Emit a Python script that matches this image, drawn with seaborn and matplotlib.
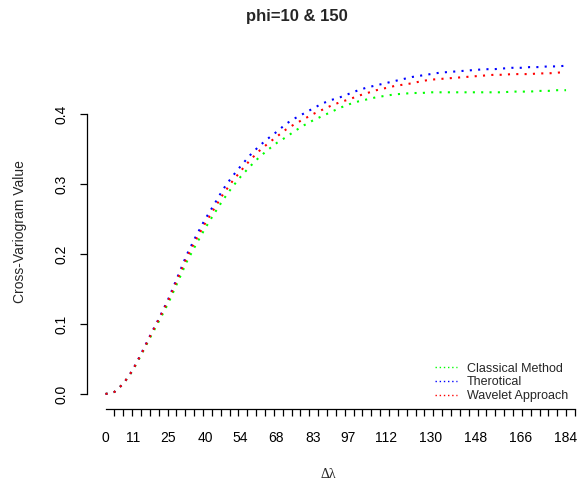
import numpy as np
import pandas as pd
import matplotlib
matplotlib.use("Agg")
import matplotlib.pyplot as plt
from matplotlib.lines import Line2D
import seaborn as sns

# lag distances
lag = np.linspace(0, 184, 52)

theoretical = [0.000, 0.003, 0.015, 0.034, 0.059, 0.085, 0.110, 0.137, 0.168, 0.199,
               0.225, 0.249, 0.270, 0.292, 0.310, 0.326, 0.341, 0.354, 0.365, 0.375,
               0.386, 0.394, 0.401, 0.408, 0.415, 0.420, 0.424, 0.429, 0.434, 0.438,
               0.441, 0.444, 0.447, 0.450, 0.453, 0.455, 0.457, 0.459, 0.460, 0.461,
               0.462, 0.463, 0.464, 0.464, 0.465, 0.466, 0.466, 0.467, 0.467, 0.468,
               0.468, 0.469]

wavelet = [0.000, 0.003, 0.015, 0.034, 0.058, 0.084, 0.109, 0.135, 0.165, 0.195,
           0.220, 0.243, 0.264, 0.285, 0.303, 0.319, 0.334, 0.347, 0.358, 0.368,
           0.378, 0.386, 0.393, 0.400, 0.406, 0.412, 0.417, 0.421, 0.426, 0.430,
           0.434, 0.437, 0.440, 0.442, 0.444, 0.447, 0.449, 0.450, 0.451, 0.452,
           0.453, 0.454, 0.455, 0.456, 0.456, 0.457, 0.457, 0.457, 0.458, 0.458,
           0.459, 0.460]

classical = [0.000, 0.003, 0.015, 0.033, 0.057, 0.082, 0.106, 0.131, 0.160, 0.189,
             0.213, 0.236, 0.257, 0.277, 0.295, 0.311, 0.325, 0.338, 0.349, 0.359,
             0.367, 0.376, 0.384, 0.391, 0.397, 0.403, 0.409, 0.414, 0.418, 0.421,
             0.424, 0.426, 0.428, 0.429, 0.430, 0.430, 0.431, 0.431, 0.431, 0.431,
             0.431, 0.431, 0.431, 0.431, 0.431, 0.432, 0.432, 0.432, 0.433, 0.433,
             0.434, 0.434]

series_names = ["Classical Method", "Therotical", "Wavelet Approach"]
series_colors = ["#00FF00", "#0000FF", "#FF0000"]
x_tick_labels = [0, 11, 25, 40, 54, 68, 83, 97, 112, 130, 148, 166, 184]
y_ticks = [0.0, 0.1, 0.2, 0.3, 0.4]

sns.set_style("white")
plt.rcParams["font.family"] = ["Liberation Sans", "DejaVu Sans"]

W, H = 579, 487
fig = plt.figure(figsize=(W / 100, H / 100), dpi=100)
ax = fig.add_axes([86.5 / W, (H - 409) / H, (W - 86.5) / W, (409 - 52.5) / H])

df = pd.DataFrame({"lag": lag, "Classical Method": classical,
                   "Therotical": theoretical, "Wavelet Approach": wavelet})

for name, col in zip(series_names, series_colors):
    sns.lineplot(data=df, x="lag", y=name, ax=ax, color=col,
                 linestyle=(0, (1, 3)), linewidth=1.5, legend=False)

px_per_unit = 2.503
ax.set_xlim((86.5 - 105.5) / px_per_unit, (579 - 105.5) / px_per_unit)
ax.set_ylim(-15 / 700, (394 - 52.5) / 700)

# axes drawn like base graphics: only bottom and left, spanning the tick range
for s in ["top", "right"]:
    ax.spines[s].set_visible(False)
x_end = (575 - 105.5) / px_per_unit
ax.spines["bottom"].set_bounds(0, x_end)
ax.spines["left"].set_bounds(0, 0.4)
for s in ["bottom", "left"]:
    ax.spines[s].set_color("black")
    ax.spines[s].set_linewidth(0.9)

ax.set_xticks(x_tick_labels)
ax.set_xticklabels([str(v) for v in x_tick_labels])
ax.set_xticks(np.linspace(0, x_end, 54), minor=True)
ax.tick_params(axis="x", which="major", length=0, pad=16, labelsize=10, colors="black")
ax.tick_params(axis="x", which="minor", length=5, width=0.9, direction="out",
               bottom=True, color="black")

ax.set_yticks(y_ticks)
ax.set_yticklabels([f"{v:.1f}" for v in y_ticks])
ax.tick_params(axis="y", which="major", length=5, width=0.9, direction="out",
               left=True, pad=8, labelsize=10, colors="black", labelrotation=90)
for t in ax.get_yticklabels():
    t.set_va("center")

ax.set_xlabel("")
ax.set_ylabel("")

fig.text(20 / W, 1 - 232 / H, "Cross-Variogram Value", rotation=90,
         ha="center", va="center", fontsize=10)
fig.text(328 / W, 1 - 474 / H, "\u0394\u03bb", ha="center", va="center",
         fontsize=10, family=["Liberation Serif", "DejaVu Serif"])
fig.text(297 / W, 1 - 17 / H, "phi=10 & 150", ha="center", va="center",
         fontsize=12, fontweight="bold")

handles = [Line2D([0], [0], color=c, linestyle=(0, (1, 2)), linewidth=1.0)
           for c in series_colors]
leg = ax.legend(handles, series_names, loc="lower right",
                bbox_to_anchor=(577 / W, (H - 411) / H), bbox_transform=fig.transFigure,
                frameon=False, fontsize=9, handlelength=1.8, handletextpad=0.8,
                labelspacing=0.15, borderpad=0.2)
for line, c in zip(leg.get_lines(), series_colors):
    line.set_color(c)

fig.savefig("out.png", dpi=100)
